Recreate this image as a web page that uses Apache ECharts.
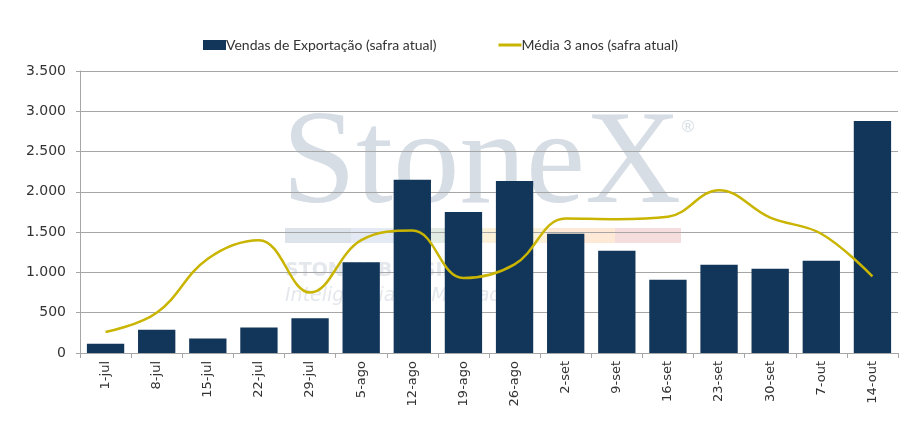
<!DOCTYPE html>
<html lang="pt">
<head>
    <meta charset="utf-8">
    <style>
        html, body, #container {
          width: 100%;
          height: 100%;
          margin: 0;
          padding: 0;
          background: #ffffff;
        }
    </style>
</head>
<body>
<div id="container"></div>
<script type="text/javascript" src="https://fastly.jsdelivr.net/npm/echarts@6/dist/echarts.min.js"></script>
<script type="text/javascript">
  var semanas = ['1-jul', '8-jul', '15-jul', '22-jul', '29-jul', '5-ago', '12-ago', '19-ago',
                 '26-ago', '2-set', '9-set', '16-set', '23-set', '30-set', '7-out', '14-out'];
  var vendas = [115, 290, 180, 315, 430, 1125, 2150, 1750, 2135, 1480, 1270, 910, 1095, 1045, 1145, 2880];
  var media3anos = [260, 500, 1170, 1400, 750, 1400, 1520, 930, 1100, 1670, 1660, 1690, 2020, 1680, 1480, 950];

  var dom = document.getElementById('container');
  var myChart = echarts.init(dom, null, { renderer: 'canvas' });

  var fmt = function (v) {
    return String(v).replace(/\B(?=(\d{3})+(?!\d))/g, '.');
  };

  // marca d'agua
  var faixas = ['#dde3ea', '#e3eaf3', '#e2ece4', '#fcf2da', '#fde9d6', '#f5dcdd'];
  var marca = [
    {
      type: 'text', left: 282, top: 101, z: -1, silent: true,
      style: { text: 'StoneX', font: '133px "Liberation Serif"', fill: '#d6dde5' }
    },
    {
      type: 'text', left: 680, top: 120, z: -1, silent: true,
      style: { text: '®', font: '16px "DejaVu Sans"', fill: '#d6dde5' }
    },
    {
      type: 'text', left: 285, top: 262, z: -1, silent: true,
      style: { text: 'STONEX BRASIL', font: 'bold 19px "DejaVu Sans"', fill: '#e4e8ed' }
    },
    {
      type: 'text', left: 285, top: 287, z: -1, silent: true,
      style: { text: 'Inteligência de Mercado', font: 'italic 19px "DejaVu Sans"', fill: '#e4e8ed' }
    }
  ];
  faixas.forEach(function (c, i) {
    marca.push({
      type: 'rect', z: -1, silent: true,
      shape: { x: 285 + i * 66, y: 228, width: 66, height: 15 },
      style: { fill: c }
    });
  });

  var option = {
    animation: false,
    graphic: marca,
    legend: {
      top: 33,
      left: 198,
      itemGap: 62,
      itemWidth: 23,
      itemHeight: 10,
      textStyle: { fontFamily: 'Lato', fontSize: 14, color: '#333333', padding: [0, 0, 0, -5] },
      data: [
        { name: 'Vendas de Exportação (safra atual)', icon: 'rect' },
        { name: 'Média 3 anos (safra atual)', icon: 'path://M0,0 L23,0 L23,3 L0,3 Z' }
      ]
    },
    grid: {
      left: 80,
      right: 21,
      top: 71,
      bottom: 77
    },
    xAxis: {
      type: 'category',
      data: semanas,
      axisLine: { lineStyle: { color: '#a6a6a6', width: 1 } },
      axisTick: { show: true, alignWithLabel: false, length: 5, lineStyle: { color: '#a6a6a6' } },
      axisLabel: {
        rotate: 90,
        interval: 0,
        margin: 8,
        fontFamily: 'DejaVu Sans',
        fontSize: 13,
        color: '#333333'
      }
    },
    yAxis: {
      type: 'value',
      min: 0,
      max: 3500,
      interval: 500,
      axisLine: { show: true, lineStyle: { color: '#a6a6a6' } },
      axisTick: { show: true, length: 4, lineStyle: { color: '#a6a6a6' } },
      splitLine: { lineStyle: { color: '#a6a6a6', width: 1 } },
      axisLabel: {
        formatter: fmt,
        margin: 14,
        fontFamily: 'DejaVu Sans',
        fontSize: 14,
        color: '#333333'
      }
    },
    series: [
      {
        name: 'Vendas de Exportação (safra atual)',
        type: 'bar',
        data: vendas,
        barCategoryGap: '27%',
        itemStyle: { color: '#12365a' }
      },
      {
        name: 'Média 3 anos (safra atual)',
        type: 'line',
        data: media3anos,
        smooth: 0.4,
        showSymbol: false,
        symbol: 'none',
        lineStyle: { color: '#c9b400', width: 2.5 },
        itemStyle: { color: '#c9b400' }
      }
    ]
  };

  myChart.setOption(option);
  window.addEventListener('resize', myChart.resize);
</script>
</body>
</html>
